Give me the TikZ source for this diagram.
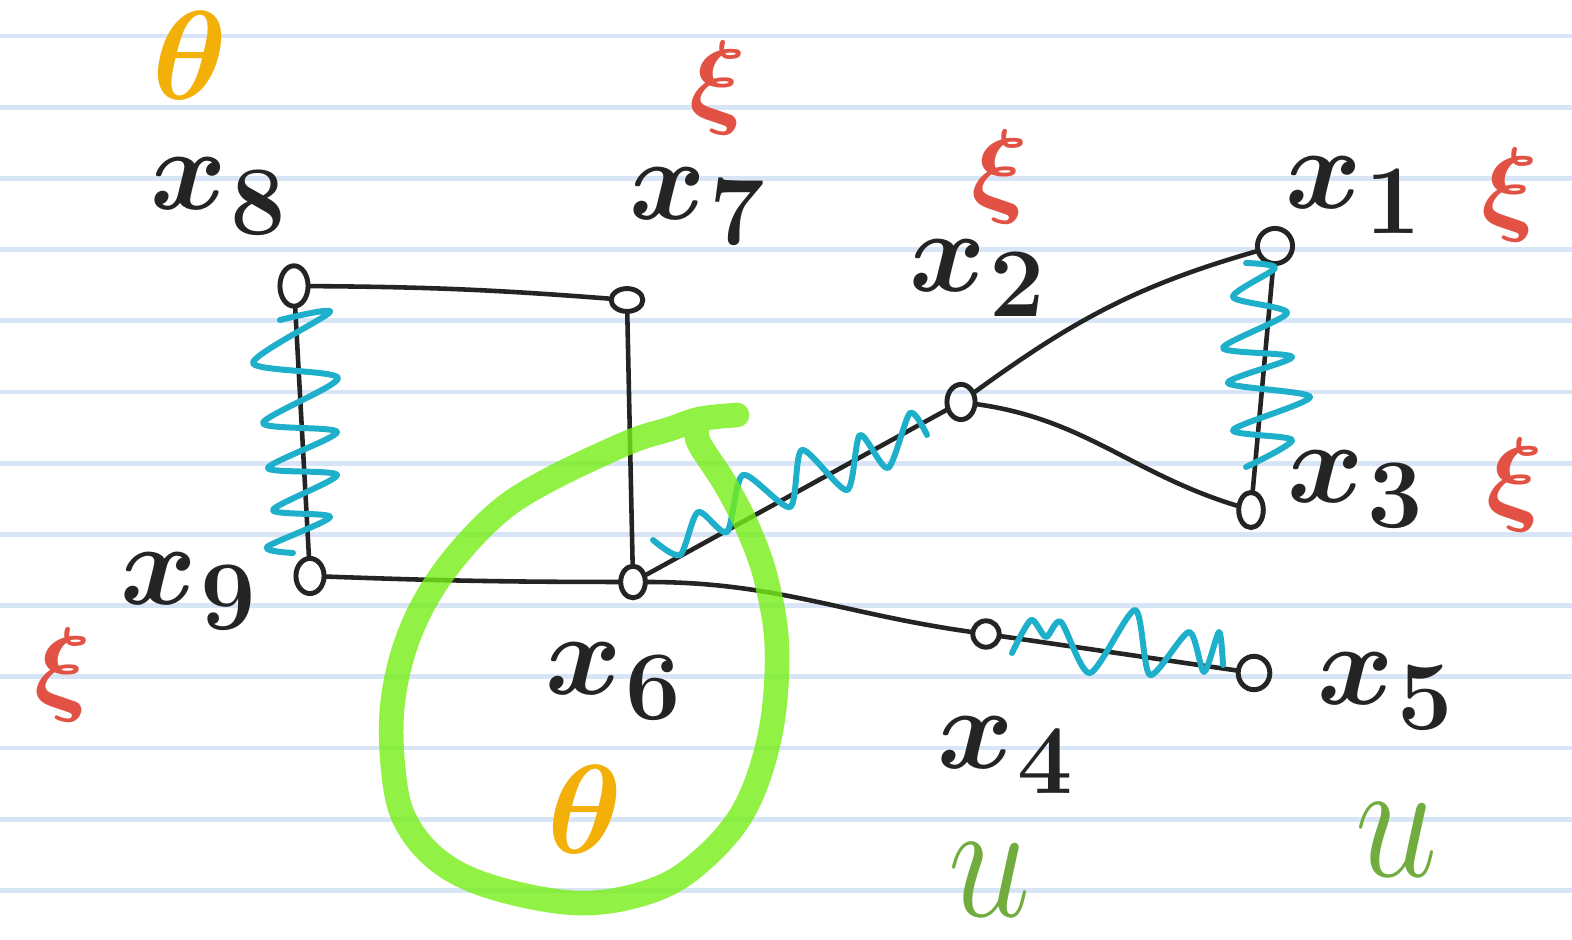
\RequirePackage{fix-cm}
\documentclass[tikz,border=0pt]{standalone}
\usetikzlibrary{shapes.geometric}
\definecolor{ruled}{RGB}{216,229,247}
\definecolor{ink}{RGB}{36,36,36}
\definecolor{springc}{RGB}{30,176,202}
\definecolor{hilite}{RGB}{118,238,22}
\definecolor{redink}{RGB}{226,82,68}
\definecolor{orangeink}{RGB}{243,176,8}
\definecolor{greenink}{RGB}{112,172,62}
\newcommand{\xlab}[1]{{\fontsize{33}{33}\selectfont\boldmath$x$}\kern1pt\raisebox{-7pt}{\fontsize{28}{28}\selectfont\bfseries #1}}
\begin{document}
\begin{tikzpicture}[x=0.01cm,y=-0.01cm,
  vtx/.style={draw=ink, ellipse, inner sep=0pt, line width=1.4pt},
  edge/.style={draw=ink, line width=1.3pt, line cap=round},
  coil/.style={draw=springc, line width=1.7pt, line cap=round, line join=round},
  lbl/.style={text=ink, inner sep=0pt},
  xilbl/.style={text=redink, inner sep=0pt, font=\fontsize{30}{30}\selectfont\boldmath},
  thlbl/.style={text=orangeink, inner sep=0pt, font=\fontsize{36}{36}\selectfont\boldmath},
  ulbl/.style={text=greenink, inner sep=0pt, font=\fontsize{42}{42}\selectfont},
  ruleline/.style={draw=ruled, line width=1.4pt}
]
\useasboundingbox (0,0) rectangle (1572,940);
\fill[white] (0,0) rectangle (1572,940);
% ruled paper
\foreach \k in {0,...,12}{
  \draw[ruleline] (0,{36+71.2*\k}) -- (1572,{36+71.2*\k});
}
% vertices
\node[vtx, minimum width=8pt, minimum height=11.5pt] (n8) at (294,286) {};
\node[vtx, minimum width=9pt, minimum height=6.5pt] (n7) at (627,300) {};
\node[vtx, minimum width=8pt, minimum height=10pt] (n9) at (310,576) {};
\node[vtx, minimum width=7pt, minimum height=9pt] (n6) at (633,582) {};
\node[vtx, minimum width=8pt, minimum height=10pt] (n2) at (961,402) {};
\node[vtx, minimum width=10pt, minimum height=10pt] (n1) at (1275,246) {};
\node[vtx, minimum width=7pt, minimum height=10pt] (n3) at (1251,510) {};
\node[vtx, minimum width=7.5pt, minimum height=7.5pt] (n4) at (986,634) {};
\node[vtx, minimum width=9pt, minimum height=9.5pt] (n5) at (1254,673) {};
% black edges
\draw[edge] (n8) to[bend left=2] (n7);
\draw[edge] (n7) -- (n6);
\draw[edge] (n8) -- (n9);
\draw[edge] (n9) to[bend right=1] (n6);
\draw[edge] (n6) -- (n2);
\draw[edge] (n2) to[out=36,in=196] (n1);
\draw[edge] (n2) to[out=-8,in=163] (n3);
\draw[edge] (n1) -- (n3);
\draw[edge] (n6) to[out=0,in=172] (n4);
\draw[edge] (n4) -- (n5);
% springs
\draw[coil] plot[smooth,tension=0.45] coordinates {(280,320) (330,312) (253,363) (338,378) (263,423) (337,432) (268,468) (337,475) (273,510) (330,517) (267,547) (293,553)};
\draw[coil] plot[smooth,tension=0.45] coordinates {(1246,263) (1275,268) (1233,297) (1287,313) (1223,348) (1292,357) (1228,383) (1310,397) (1233,430) (1292,440) (1246,467)};
\draw[coil] plot[smooth,tension=0.45] coordinates {(653,540) (680,555) (698,512) (727,532) (743,475) (790,507) (802,450) (847,490) (860,435) (888,468) (910,413) (927,435)};
\draw[coil] plot[smooth,tension=0.45] coordinates {(1012,653) (1031,620) (1046,637) (1061,622) (1090,673) (1135,610) (1150,675) (1189,632) (1204,672) (1219,632) (1223,665)};
% labels
\node[lbl] (l8) at (218,197) {\xlab{8}};
\node[lbl] (l7) at (697,207) {\xlab{7}};
\node[lbl] (l2) at (977,278) {\xlab{2}};
\node[lbl] (l1) at (1353,195) {\xlab{1}};
\node[lbl] (l3) at (1355,490) {\xlab{3}};
\node[lbl] (l9) at (188,592) {\xlab{9}};
\node[lbl] (l6) at (613,682) {\xlab{6}};
\node[lbl] (l4) at (1005,755) {\xlab{4}};
\node[lbl] (l5) at (1385,692) {\xlab{5}};
% red xi
\node[xilbl] (r7) at (718,88) {$\xi$};
\node[xilbl] (r2) at (1000,177) {$\xi$};
\node[xilbl] (r1) at (1510,195) {$\xi$};
\node[xilbl] (r3) at (1515,485) {$\xi$};
\node[xilbl] (r9) at (63,675) {$\xi$};
% orange theta
\node[thlbl] (t8) at (190,56) {$\theta$};
\node[thlbl] (t6) at (585,810) {$\theta$};
% green u
\node[ulbl] (u4) at (990,880) {\scalebox{1}[1.15]{$u$}};
\node[ulbl] (u5) at (1397,840) {\scalebox{1}[1.15]{$u$}};
% green highlight
\draw[draw=hilite, line width=7pt, opacity=0.8, line cap=round, line join=round]
  plot[smooth,tension=0.6] coordinates {(737,415) (700,419) (670,429) (627,443) (543,483) (493,517) (443,573) (410,633) (393,700) (393,767) (405,820) (440,862) (495,888) (577,903) (645,893) (695,866) (743,812) (770,735) (777,650) (767,583) (750,533) (727,487) (700,445) (697,432)};
\end{tikzpicture}
\end{document}
